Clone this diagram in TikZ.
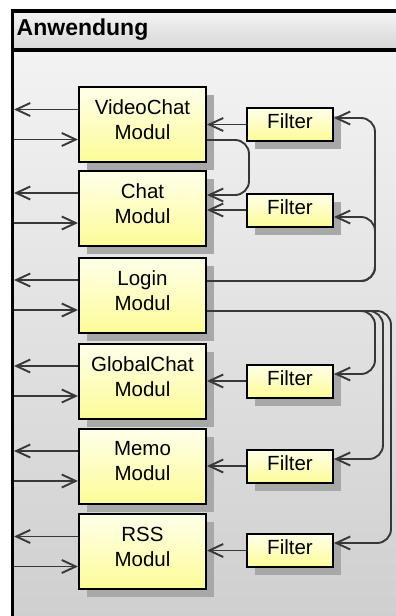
\documentclass[tikz,border=0pt]{standalone}
\usepackage{fontspec}
\setmainfont{Liberation Sans}
\usetikzlibrary{arrows.meta,shadows,calc}
\definecolor{hdtop}{HTML}{F4F4F4}
\definecolor{hdbot}{HTML}{D6D6D6}
\definecolor{bdtop}{HTML}{F3F3F3}
\definecolor{bdbot}{HTML}{CFCFCF}
\definecolor{ytop}{HTML}{FFFFEA}
\definecolor{ybot}{HTML}{FCFC98}
\definecolor{shgray}{HTML}{A8A8A8}
\definecolor{linegray}{HTML}{383838}
\tikzset{
  boxbase/.style={draw=black, line width=2pt, top color=ytop, bottom color=ybot,
    drop shadow={shadow xshift=8pt, shadow yshift=-8pt, fill=shgray, opacity=1}},
  module/.style={boxbase, minimum width=127pt, minimum height=75pt, inner sep=0pt},
  filterbox/.style={boxbase, minimum width=86pt, minimum height=33pt, inner sep=0pt},
  boxtext/.style={font=\fontsize{20.5}{25}\selectfont, align=center, inner sep=0pt},
  conn/.style={draw=linegray, line width=1.9pt, -{Straight Barb[length=14pt,width=13pt]}},
  rc/.style={rounded corners=14pt}
}
\begin{document}
\begin{tikzpicture}[x=1pt,y=-1pt]
\useasboundingbox (0,0) rectangle (396,616);
\clip (0,0) rectangle (396,616);
% frame
\shade[top color=hdtop, bottom color=hdbot] (12.5,11) rectangle (400,50);
\shade[top color=bdtop, bottom color=bdbot] (12.5,50) rectangle (400,620);
\draw[line width=3.5pt] (12.5,622) -- (12.5,11) -- (400,11);
\draw[line width=3.5pt] (12.5,50) -- (400,50);
\node[anchor=base west, inner sep=0pt, font=\bfseries\fontsize{23}{27}\selectfont] (title) at (16.5,35.5) {Anwendung};
\coordinate (wall) at (14,0);
% modules
\node[module] (vc) at (142.5,124.5) {};
\node[module] (chat) at (142.5,208) {};
\node[module] (login) at (142.5,295) {};
\node[module] (gc) at (142.5,381) {};
\node[module] (memo) at (142.5,466) {};
\node[module] (rss) at (142.5,551.5) {};
\node[boxtext] (vct) at ([yshift=4.5pt]vc.center) {VideoChat\\Modul};
\node[boxtext] (chatt) at ([yshift=4.5pt]chat.center) {Chat\\Modul};
\node[boxtext] (logint) at ([yshift=4.5pt]login.center) {Login\\Modul};
\node[boxtext] (gct) at ([yshift=4.5pt]gc.center) {GlobalChat\\Modul};
\node[boxtext] (memot) at ([yshift=4.5pt]memo.center) {Memo\\Modul};
\node[boxtext] (rsst) at ([yshift=4.5pt]rss.center) {RSS\\Modul};
% filters
\node[filterbox] (f1) at (290,124.5) {};
\node[filterbox] (f2) at (290,210) {};
\node[filterbox] (f3) at (290,381) {};
\node[filterbox] (f4) at (290,466) {};
\node[filterbox] (f5) at (290,550.5) {};
\foreach \f in {f1,f2,f3,f4,f5}
  \node[boxtext] (\f t) at ([yshift=3pt]\f.center) {Filter};
% left connectors
\foreach \m in {vc,chat,login,gc,memo,rss}{
  \draw[conn] ([yshift=15pt]\m.west) -- ([yshift=15pt]\m.west -| wall);
  \draw[conn] ([yshift=-15pt]\m.west -| wall) -- ([yshift=-15pt]\m.west);
}
% filter -> module
\draw[conn] (f1.west) -- (f1.west -| vc.east);
\draw[conn] (f2.west) -- (f2.west -| chat.east);
\draw[conn] (f3.west) -- (f3.west -| gc.east);
\draw[conn] (f4.west) -- (f4.west -| memo.east);
\draw[conn] (f5.west) -- (f5.west -| rss.east);
% videochat -> chat
\coordinate (loop) at (249,0);
\draw[conn, rc] ([yshift=-15.5pt]vc.east) -- ([yshift=-15.5pt]vc.east -| loop)
  -- ([yshift=13pt]chat.east -| loop) -- ([yshift=13pt]chat.east);
% login upper -> filters 1,2
\coordinate (busa) at (375,0);
\draw[conn, rc] ([yshift=14pt]login.east) -- ([yshift=14pt]login.east -| busa)
  -- ([yshift=6.5pt]f1.east -| busa) -- ([yshift=6.5pt]f1.east);
\draw[conn, rc] ([yshift=14pt]login.east) -- ([yshift=14pt]login.east -| busa)
  -- ([yshift=-7pt]f2.east -| busa) -- ([yshift=-7pt]f2.east);
% login lower -> filters 3,4,5
\coordinate (busb) at (375,0);
\coordinate (busc) at (383,0);
\coordinate (busd) at (391,0);
\draw[conn, rc] ([yshift=-16pt]login.east) -- ([yshift=-16pt]login.east -| busb)
  -- ([yshift=7pt]f3.east -| busb) -- ([yshift=7pt]f3.east);
\draw[conn, rc] ([yshift=-16pt]login.east) -- ([yshift=-16pt]login.east -| busc)
  -- ([yshift=7pt]f4.east -| busc) -- ([yshift=7pt]f4.east);
\draw[conn, rc] ([yshift=-16pt]login.east) -- ([yshift=-16pt]login.east -| busd)
  -- ([yshift=7.5pt]f5.east -| busd) -- ([yshift=7.5pt]f5.east);
\end{tikzpicture}
\end{document}
